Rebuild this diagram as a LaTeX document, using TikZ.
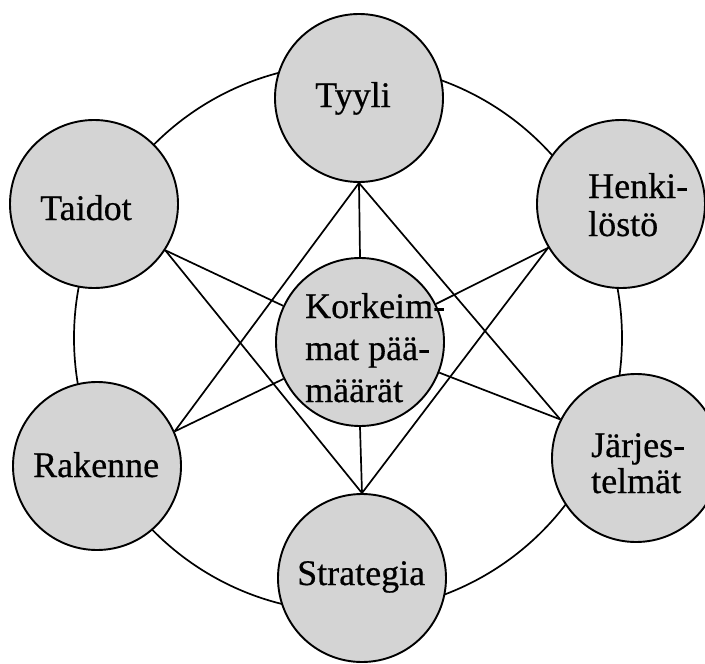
\documentclass[tikz,border=0pt]{standalone}
\usepackage{fontspec}
\setmainfont{Liberation Serif}[FakeBold=0.4]
\newfontfamily\heavyserif{Liberation Serif}[FakeBold=0.5]
\definecolor{cfill}{RGB}{212,212,212}
\tikzset{
  sball/.style={circle, draw=black, line width=1.9pt, fill=cfill, minimum size=168pt, inner sep=0pt},
  lbl/.style={anchor=base west, inner sep=0pt, font=\heavyserif\fontsize{36}{#1}\selectfont},
  lbl/.default=38,
  conn/.style={line width=1.7pt}
}
\begin{document}
\begin{tikzpicture}[x=1pt,y=-1pt]
\useasboundingbox (0,0) rectangle (705,664);
\coordinate (ringc) at (348,338);
\draw[conn] (ringc) circle[radius=274pt];

\node[sball] (tyyli)   at (359,98)  {};
\node[sball] (taidot)  at (94,204)  {};
\node[sball] (henki)   at (621,204) {};
\node[sball] (core)    at (360,342) {};
\node[sball] (rakenne) at (97,466)  {};
\node[sball] (jarj)    at (636,458) {};
\node[sball] (strat)   at (362,578) {};

\draw[conn] (tyyli.south) -- (core.north);
\draw[conn] (core.south) -- (strat.north);
\draw[conn] (tyyli.south) -- (rakenne.24);
\draw[conn] (tyyli.south) -- (jarj.153);
\draw[conn] (taidot.-33) -- (strat.north);
\draw[conn] (henki.211) -- (strat.north);
\draw[conn] (taidot.-33) -- (core);
\draw[conn] (henki.211) -- (core);
\draw[conn] (rakenne.24) -- (core);
\draw[conn] (jarj.153) -- (core);

\node[lbl] (ttyyli)   at (315,107) {Tyyli};
\node[lbl] (ttaidot)  at (40,220)  {Taidot};
\node[lbl=38] (thenki) at (588,198) {\begin{tabular}[t]{@{}l@{}}Henki-\\löstö\end{tabular}};
\node[lbl=42] (tcore)  at (305,318) {\begin{tabular}[t]{@{}l@{}}Korkeim-\\mat pää-\\määrät\end{tabular}};
\node[lbl] (trakenne) at (33,477)  {Rakenne};
\node[lbl=36] (tjarj)  at (591,457) {\begin{tabular}[t]{@{}l@{}}Järjes-\\telmät\end{tabular}};
\node[lbl] (tstrat)   at (297,585) {Strategia};
\end{tikzpicture}
\end{document}
